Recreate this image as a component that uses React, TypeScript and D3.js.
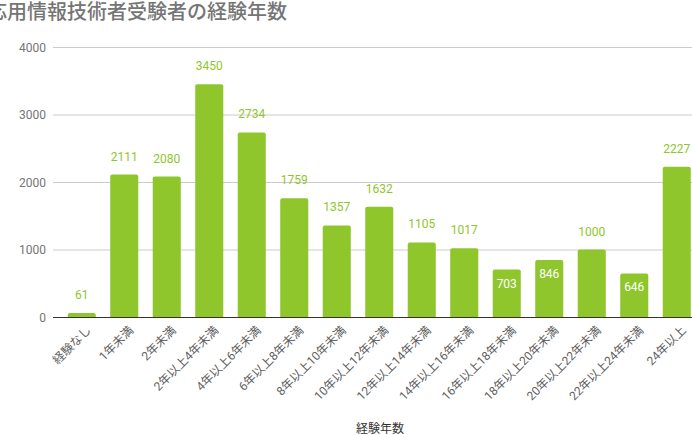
import React, { useEffect, useRef } from 'react';
import * as d3 from 'd3';

const categories = [
  '経験なし', '1年未満', '2年未満', '2年以上4年未満', '4年以上6年未満', '6年以上8年未満',
  '8年以上10年未満', '10年以上12年未満', '12年以上14年未満', '14年以上16年未満',
  '16年以上18年未満', '18年以上20年未満', '20年以上22年未満', '22年以上24年未満', '24年以上',
];
const counts = [61, 2111, 2080, 3450, 2734, 1759, 1357, 1632, 1105, 1017, 703, 846, 1000, 646, 2227];
const yTicks = [0, 1000, 2000, 3000, 4000];
// labels that the original draws inside the bar
const insideLabels = new Set(['16年以上18年未満', '18年以上20年未満', '22年以上24年未満']);

const title = '応用情報技術者受験者の経験年数';
const xTitle = '経験年数';

const W = 692;
const H = 435;
const GREEN = '#8ec62c';
const FONT = 'Roboto, "Noto Sans CJK JP", sans-serif';

const App: React.FC = () => {
  const svgRef = useRef<SVGSVGElement>(null);

  useEffect(() => {
    document.body.style.margin = '0';
    if (!svgRef.current) return;
    const svg = d3.select(svgRef.current);
    svg.selectAll('*').remove();

    const gridLeft = 53;
    const x = d3.scaleBand<string>().domain(categories).range([60.5, 698]).paddingInner(0.34).paddingOuter(0.17);
    const y = d3.scaleLinear().domain([0, 4000]).range([317, 47]);

    // Title
    svg
      .append('text')
      .attr('x', -13)
      .attr('y', 19)
      .attr('font-family', FONT)
      .attr('font-size', 20)
      .attr('font-weight', 500)
      .attr('fill', '#757575')
      .text(title);

    // Grid + y labels
    const yAxis = svg.append('g');
    yAxis
      .selectAll('line')
      .data(yTicks.filter((t) => t > 0))
      .enter()
      .append('line')
      .attr('x1', gridLeft)
      .attr('x2', W)
      .attr('y1', (d) => y(d) + 0.5)
      .attr('y2', (d) => y(d) + 0.5)
      .attr('stroke', '#cccccc')
      .attr('stroke-width', 1);
    yAxis
      .selectAll('text')
      .data(yTicks)
      .enter()
      .append('text')
      .attr('x', 46)
      .attr('y', (d) => y(d) + 4.5)
      .attr('text-anchor', 'end')
      .attr('font-family', FONT)
      .attr('font-size', 12)
      .attr('fill', '#757575')
      .text((d) => String(d));

    // Bars
    const bw = x.bandwidth();
    const r = 2;
    svg
      .selectAll('.bar')
      .data(categories)
      .enter()
      .append('path')
      .attr('class', 'bar')
      .attr('fill', GREEN)
      .attr('d', (c, i) => {
        const x0 = x(c) as number;
        const y0 = y(counts[i]);
        const y1 = y(0);
        const rr = Math.min(r, (y1 - y0) / 2);
        return `M${x0},${y1}V${y0 + rr}Q${x0},${y0} ${x0 + rr},${y0}H${x0 + bw - rr}Q${x0 + bw},${y0} ${x0 + bw},${y0 + rr}V${y1}Z`;
      });

    // Baseline
    svg
      .append('line')
      .attr('x1', gridLeft)
      .attr('x2', W)
      .attr('y1', y(0) + 0.5)
      .attr('y2', y(0) + 0.5)
      .attr('stroke', '#333333')
      .attr('stroke-width', 1.2);

    // Value labels
    svg
      .selectAll('.val')
      .data(categories)
      .enter()
      .append('text')
      .attr('class', 'val')
      .attr('x', (c) => (x(c) as number) + bw / 2)
      .attr('y', (c, i) => (insideLabels.has(c) ? y(counts[i]) + 18 : y(counts[i]) - 14))
      .attr('text-anchor', 'middle')
      .attr('font-family', FONT)
      .attr('font-size', 12)
      .attr('fill', (c) => (insideLabels.has(c) ? '#ffffff' : GREEN))
      .text((c, i) => String(counts[i]));

    // X labels
    svg
      .selectAll('.xl')
      .data(categories)
      .enter()
      .append('text')
      .attr('class', 'xl')
      .attr('transform', (c) => `translate(${(x(c) as number) + bw / 2 + 7},${y(0) + 11}) rotate(-45)`)
      .attr('text-anchor', 'end')
      .attr('dy', '0.35em')
      .attr('font-family', FONT)
      .attr('font-size', 12)
      .attr('fill', '#5f5f5f')
      .text((c) => c);

    // X title
    svg
      .append('text')
      .attr('x', 380)
      .attr('y', 433)
      .attr('text-anchor', 'middle')
      .attr('font-family', FONT)
      .attr('font-size', 12)
      .attr('fill', '#333333')
      .text(xTitle);
  }, []);

  return <svg ref={svgRef} width={W} height={H} style={{ display: 'block', background: '#fff' }} />;
};

export default App;
